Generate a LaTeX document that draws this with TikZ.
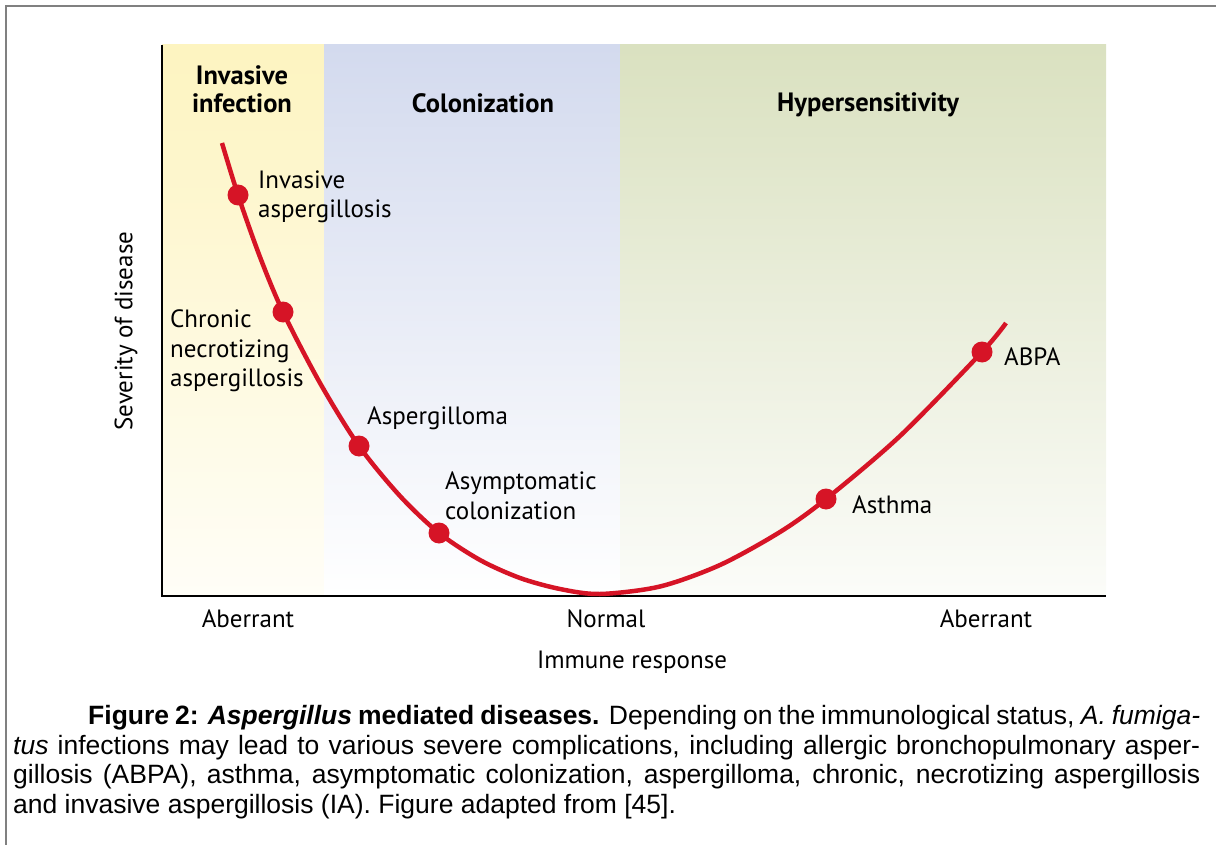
\documentclass[tikz,border=0pt]{standalone}
\usepackage{fontspec}
\setmainfont{PT Sans}
\newfontfamily\capfont{Liberation Sans}

\definecolor{curvered}{RGB}{214,20,38}
\definecolor{bandyellow}{RGB}{253,244,192}
\definecolor{bandblue}{RGB}{211,218,238}
\definecolor{bandgreen}{RGB}{218,225,192}
\definecolor{framegray}{RGB}{128,128,128}

\tikzset{
  dot/.style={circle, fill=curvered, inner sep=0pt, minimum size=21pt},
  lbl/.style={inner sep=0pt, align=left, anchor=west, font=\fontsize{25}{29.5}\selectfont},
  head/.style={inner sep=0pt, align=center, font=\fontsize{26.5}{28}\selectfont\bfseries},
  tick/.style={inner sep=0pt, font=\fontsize{25}{28}\selectfont},
}

\begin{document}
\begin{tikzpicture}[x=1pt, y=-1pt]
\useasboundingbox (0,0) rectangle (1216,845);

\draw[framegray, line width=2.5pt] (6,845) -- (6,6) -- (1216,6);

\fill[top color=bandyellow, bottom color=bandyellow!12] (162,45) rectangle (324,596);
\fill[top color=bandblue, bottom color=white] (324,45) rectangle (620,596);
\fill[top color=bandgreen, bottom color=bandgreen!10] (620,45) rectangle (1106,596);

\coordinate (o) at (162,596);
\draw[line width=2pt] (162,45) -- (o) -- (1106,596);

\node[head] (h1) at (242,89) {Invasive\\infection};
\node[head] (h2) at (483,103) {Colonization};
\node[head] (h3) at (868,105) {Hypersensitivity};

\coordinate (p1) at (238,195);
\coordinate (p2) at (283,312);
\coordinate (p3) at (359,446);
\coordinate (p4) at (439,533);
\coordinate (p6) at (826,499);
\coordinate (p7) at (982,352);

\draw[curvered, line width=4.5pt] plot[smooth, tension=0.5]
  coordinates {(222,143) (p1) (260,257) (p2) (320,383) (p3) (400,496) (p4)
  (480,560) (520,578) (560,589) (600,594) (660,586.5) (720,565) (780,532)
  (p6) (900,436) (p7) (1006,323)};

\node[dot] (ia) at (p1) {};
\node[dot] (cna) at (p2) {};
\node[dot] (ag) at (p3) {};
\node[dot] (ac) at (p4) {};
\node[dot] (as) at (p6) {};
\node[dot] (abpa) at (p7) {};

\node[lbl] (l1) at (258,197) {Invasive\\aspergillosis};
\node[lbl] (l2) at (170,351) {Chronic\\necrotizing\\aspergillosis};
\node[lbl] (l3) at (367,418) {Aspergilloma};
\node[lbl] (l4) at (445,496) {Asymptomatic\\colonization};
\node[lbl] (l5) at (852,505) {Asthma};
\node[lbl] (l6) at (1004,357) {ABPA};

\node[tick] (t1) at (248,619) {Aberrant};
\node[tick] (t2) at (606,619) {Normal};
\node[tick] (t3) at (986,619) {Aberrant};
\node[tick] (xl) at (632,662) {Immune response};
\node[tick, rotate=90] (yl) at (126,331) {Severity of disease};

\node[inner sep=0pt, anchor=north west, text width=1187pt, align=justify,
  font=\capfont\fontsize{26.5}{29.6}\selectfont] (cap) at (13,705)
  {\hspace*{75pt}\textbf{Figure 2: \textit{Aspergillus} mediated diseases.} Depending on the immunological status, \textit{A.~fumiga-}\linebreak
  \textit{tus} infections may lead to various severe complications, including allergic bronchopulmonary asper-\linebreak
  gillosis (ABPA), asthma, asymptomatic colonization, aspergilloma, chronic, necrotizing aspergillosis\linebreak
  and invasive aspergillosis (IA). Figure adapted from [45].};

\end{tikzpicture}
\end{document}
